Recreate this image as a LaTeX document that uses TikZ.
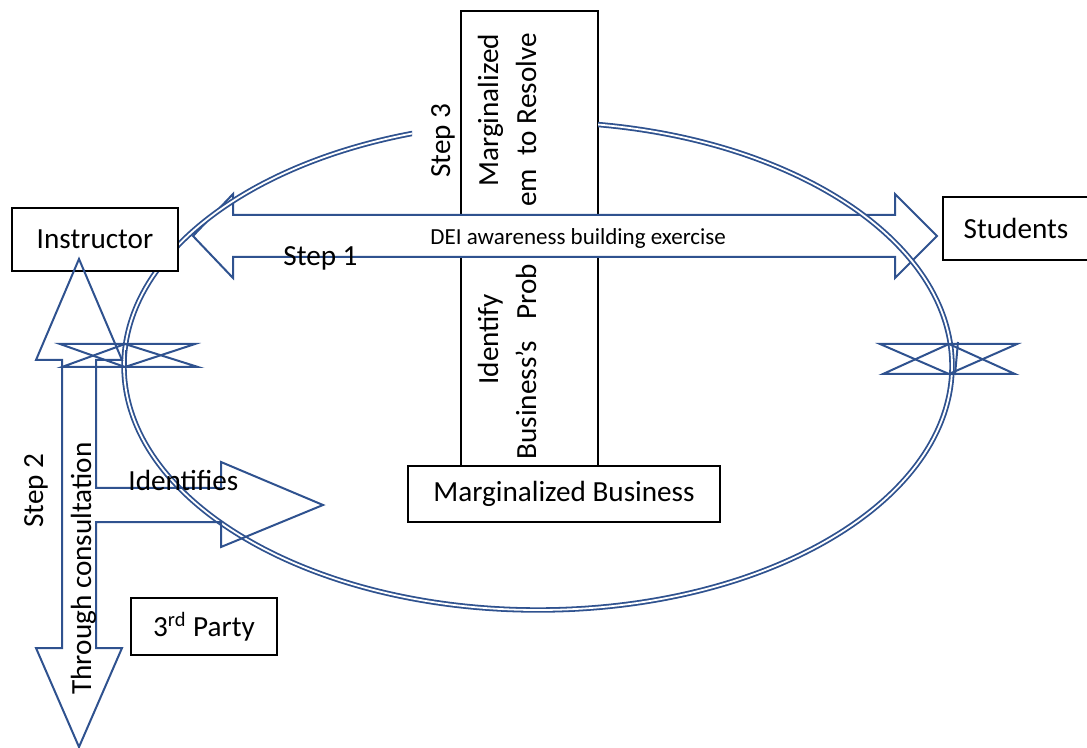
\documentclass[tikz,border=0pt]{standalone}
\usepackage{fontspec}
\setmainfont{Carlito}
\usepackage{tikz}
\definecolor{shapeblue}{RGB}{47,82,143}

\begin{document}
\begin{tikzpicture}[
    x=0.5pt, y=-0.5pt,
    every node/.style={font=\fontsize{14.6}{19}\selectfont},
    block/.style={rectangle, draw, fill=white, line width=0.9pt, inner sep=0pt},
    bigarrow/.style={draw=shapeblue, line width=1pt, line join=miter},
    ring/.style={draw=shapeblue, double=white, line width=0.9pt, double distance=0.9pt},
    vlabel/.style={rotate=90, anchor=base west, inner sep=0pt},
    hlabel/.style={anchor=base west, inner sep=0pt}
]
\path [use as bounding box, clip] (0,0) rectangle (1087,748);

% Problem column
\node [block, minimum width=68.5pt, minimum height=227.5pt] (issue) at (529.5,238.5) {};
\node [vlabel] (identify) at (498,385) {Identify};
\node [vlabel] (marg) at (498,187) {Marginalized};
\node [vlabel] (bizprob) at (536,460) {Business’s\hspace{0.72em}Prob};
\node [vlabel] (resolve) at (536,207) {em\ \ to Resolve};

% Step 1 arrow
\draw [bigarrow, fill=white] (193,236) -- (233,194) -- (233,215) -- (895,215) -- (895,194)
    -- (937,236) -- (895,278) -- (895,257) -- (233,257) -- (233,278) -- cycle;

% Cycle
\begin{scope}
\clip (0,0) rectangle (412,748) (598,0) rectangle (1087,748) (412,300) rectangle (598,748);
\draw [ring] (538,366) ellipse [x radius=207pt, y radius=122pt];
\end{scope}

% Instructor
\node [block, minimum width=83pt, minimum height=31.5pt] (instructor) at (95,239.5) {Instructor};

% Students
\node [block, minimum width=73pt, minimum height=31.5pt] (students) at (1016,228.5) {Students};

% Marginalized Business
\node [block, minimum width=156pt, minimum height=28pt] (business) at (564,494) {Marginalized Business};

% 3rd Party
\node [block, minimum width=73pt, minimum height=28.5pt] (party) at (204,626.5) {3\textsuperscript{rd} Party};

% Step 2 arrow
\draw [bigarrow] (79,259) -- (122,360) -- (96,360) -- (96,488) -- (221,488) -- (221,462)
    -- (323,505) -- (221,547) -- (221,522) -- (96,522) -- (96,648) -- (122,648)
    -- (79,747) -- (36,648) -- (62,648) -- (62,360) -- (36,360) -- cycle;

% Crossings
\draw [bigarrow] (60,344) -- (195,344) -- (125,367) -- cycle;
\draw [bigarrow] (62,367) -- (198,367) -- (125,344) -- cycle;
\draw [bigarrow] (126,350) -- (126,368);
\draw [bigarrow] (880,344) -- (1017,344) -- (949,374) -- cycle;
\draw [bigarrow] (883,374) -- (1015,374) -- (949,344) -- cycle;
\draw [bigarrow] (958,342) -- (955,375);

% Labels
\node [hlabel] (step1) at (283,266) {Step 1};
\node [hlabel, font=\fontsize{11.5}{14}\selectfont] (dei) at (430,245) {DEI awareness building exercise};
\node [vlabel] (step2) at (43,528) {Step 2};
\node [vlabel] (consult) at (91,695) {Through consultation};
\node [hlabel] (identifies) at (128,490) {Identifies};
\node [vlabel] (step3) at (450,178) {Step 3};

\end{tikzpicture}
\end{document}
